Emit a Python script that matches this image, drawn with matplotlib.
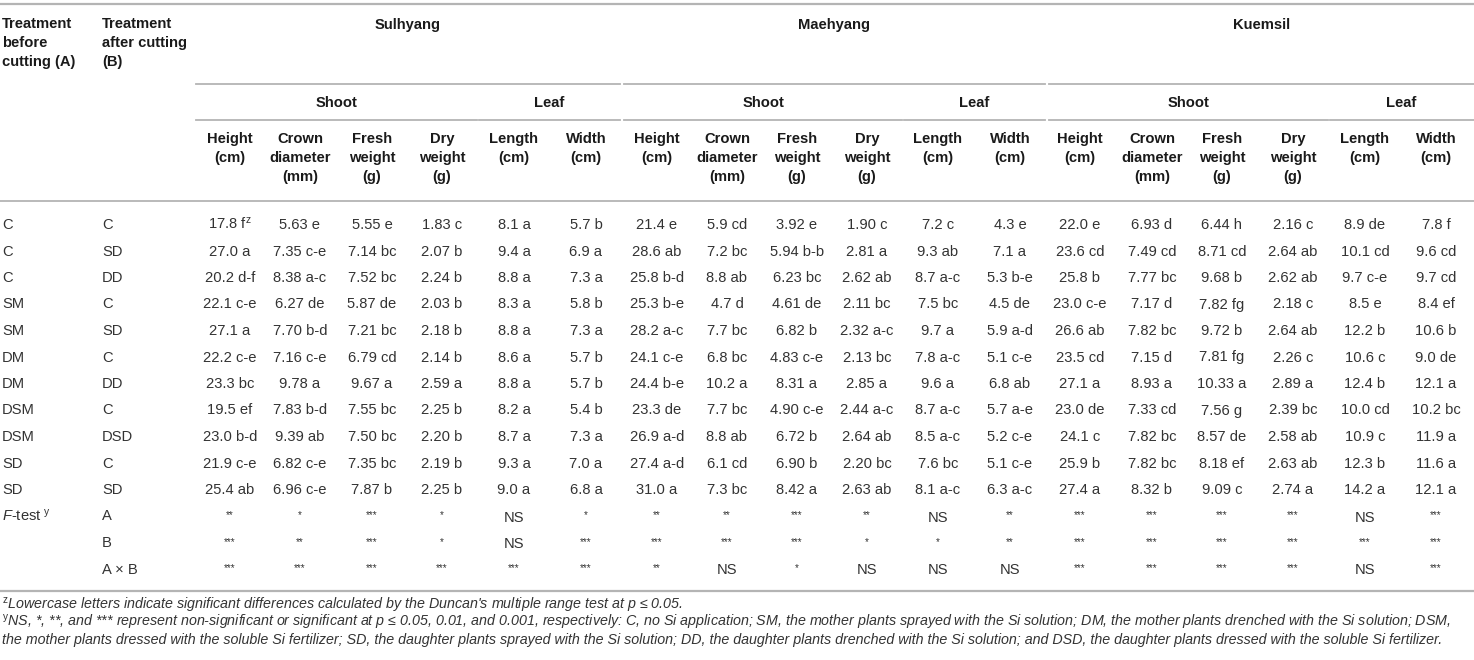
import matplotlib
matplotlib.use('Agg')
import matplotlib.pyplot as plt

plt.rcParams['font.family'] = ['Liberation Sans', 'DejaVu Sans']
plt.rcParams['mathtext.fontset'] = 'custom'
plt.rcParams['mathtext.rm'] = 'Liberation Sans'
plt.rcParams['mathtext.it'] = 'Liberation Sans:italic'

# table content
varieties = ['Sulhyang', 'Maehyang', 'Kuemsil']
groups = ['Shoot', 'Leaf']
col_heads = ['Height\n(cm)', 'Crown\ndiameter\n(mm)', 'Fresh\nweight\n(g)',
             'Dry\nweight\n(g)', 'Length\n(cm)', 'Width\n(cm)']

treat_a = ['C', 'C', 'C', 'SM', 'SM', 'DM', 'DM', 'DSM', 'DSM', 'SD', 'SD']
treat_b = ['C', 'SD', 'DD', 'C', 'SD', 'C', 'DD', 'C', 'DSD', 'C', 'SD']
ftest_b = ['A', 'B', 'A \u00d7 B']

sulhyang = [
    ['17.8 f$^{\\mathrm{z}}$', '5.63 e', '5.55 e', '1.83 c', '8.1 a', '5.7 b'],
    ['27.0 a', '7.35 c-e', '7.14 bc', '2.07 b', '9.4 a', '6.9 a'],
    ['20.2 d-f', '8.38 a-c', '7.52 bc', '2.24 b', '8.8 a', '7.3 a'],
    ['22.1 c-e', '6.27 de', '5.87 de', '2.03 b', '8.3 a', '5.8 b'],
    ['27.1 a', '7.70 b-d', '7.21 bc', '2.18 b', '8.8 a', '7.3 a'],
    ['22.2 c-e', '7.16 c-e', '6.79 cd', '2.14 b', '8.6 a', '5.7 b'],
    ['23.3 bc', '9.78 a', '9.67 a', '2.59 a', '8.8 a', '5.7 b'],
    ['19.5 ef', '7.83 b-d', '7.55 bc', '2.25 b', '8.2 a', '5.4 b'],
    ['23.0 b-d', '9.39 ab', '7.50 bc', '2.20 b', '8.7 a', '7.3 a'],
    ['21.9 c-e', '6.82 c-e', '7.35 bc', '2.19 b', '9.3 a', '7.0 a'],
    ['25.4 ab', '6.96 c-e', '7.87 b', '2.25 b', '9.0 a', '6.8 a'],
]
maehyang = [
    ['21.4 e', '5.9 cd', '3.92 e', '1.90 c', '7.2 c', '4.3 e'],
    ['28.6 ab', '7.2 bc', '5.94 b-b', '2.81 a', '9.3 ab', '7.1 a'],
    ['25.8 b-d', '8.8 ab', '6.23 bc', '2.62 ab', '8.7 a-c', '5.3 b-e'],
    ['25.3 b-e', '4.7 d', '4.61 de', '2.11 bc', '7.5 bc', '4.5 de'],
    ['28.2 a-c', '7.7 bc', '6.82 b', '2.32 a-c', '9.7 a', '5.9 a-d'],
    ['24.1 c-e', '6.8 bc', '4.83 c-e', '2.13 bc', '7.8 a-c', '5.1 c-e'],
    ['24.4 b-e', '10.2 a', '8.31 a', '2.85 a', '9.6 a', '6.8 ab'],
    ['23.3 de', '7.7 bc', '4.90 c-e', '2.44 a-c', '8.7 a-c', '5.7 a-e'],
    ['26.9 a-d', '8.8 ab', '6.72 b', '2.64 ab', '8.5 a-c', '5.2 c-e'],
    ['27.4 a-d', '6.1 cd', '6.90 b', '2.20 bc', '7.6 bc', '5.1 c-e'],
    ['31.0 a', '7.3 bc', '8.42 a', '2.63 ab', '8.1 a-c', '6.3 a-c'],
]
kuemsil = [
    ['22.0 e', '6.93 d', '6.44 h', '2.16 c', '8.9 de', '7.8 f'],
    ['23.6 cd', '7.49 cd', '8.71 cd', '2.64 ab', '10.1 cd', '9.6 cd'],
    ['25.8 b', '7.77 bc', '9.68 b', '2.62 ab', '9.7 c-e', '9.7 cd'],
    ['23.0 c-e', '7.17 d', '7.82 fg', '2.18 c', '8.5 e', '8.4 ef'],
    ['26.6 ab', '7.82 bc', '9.72 b', '2.64 ab', '12.2 b', '10.6 b'],
    ['23.5 cd', '7.15 d', '7.81 fg', '2.26 c', '10.6 c', '9.0 de'],
    ['27.1 a', '8.93 a', '10.33 a', '2.89 a', '12.4 b', '12.1 a'],
    ['23.0 de', '7.33 cd', '7.56 g', '2.39 bc', '10.0 cd', '10.2 bc'],
    ['24.1 c', '7.82 bc', '8.57 de', '2.58 ab', '10.9 c', '11.9 a'],
    ['25.9 b', '7.82 bc', '8.18 ef', '2.63 ab', '12.3 b', '11.6 a'],
    ['27.4 a', '8.32 b', '9.09 c', '2.74 a', '14.2 a', '12.1 a'],
]
sulhyang_f = [['**', '*', '***', '*', 'NS', '*'],
              ['***', '**', '***', '*', 'NS', '***'],
              ['***', '***', '***', '***', '***', '***']]
maehyang_f = [['**', '**', '***', '**', 'NS', '**'],
              ['***', '***', '***', '*', '*', '**'],
              ['**', 'NS', '*', 'NS', 'NS', 'NS']]
kuemsil_f = [['***', '***', '***', '***', 'NS', '***'],
             ['***', '***', '***', '***', '***', '***'],
             ['***', '***', '***', '***', 'NS', '***']]

notes = [
    "$^{\\mathrm{z}}$Lowercase letters indicate significant differences calculated by the Duncan's multiple range test at p \u2264 0.05.",
    "$^{\\mathrm{y}}$NS, *, **, and *** represent non-significant or significant at p \u2264 0.05, 0.01, and 0.001, respectively: C, no Si application; SM, the mother plants sprayed with the Si solution; DM, the mother plants drenched with the Si solution; DSM,",
    "the mother plants dressed with the soluble Si fertilizer; SD, the daughter plants sprayed with the Si solution; DD, the daughter plants drenched with the Si solution; and DSD, the daughter plants dressed with the soluble Si fertilizer.",
]

W, H = 1474, 660
fig = plt.figure(figsize=(W / 100, H / 100), dpi=100)
ax = fig.add_axes([0, 0, 1, 1])
ax.set_xlim(0, W)
ax.set_ylim(H, 0)
ax.axis('off')

hd = '#1a1a1a'
tx = '#333333'
lc = '#b4b4b4'
fs = 10.6

col_x = [[230, 300, 372, 442, 514, 586],
         [657, 727, 797, 867, 938, 1010],
         [1080, 1152, 1222, 1293, 1365, 1436]]
var_span = [(196, 620), (624, 1045), (1049, 1474)]
grp_split = [478, 903, 1329]

row_y0, row_dy = 225, 26.5

# rules
ax.plot([0, W], [4, 4], color=lc, lw=1.6)
ax.plot([0, W], [201, 201], color=lc, lw=1.3)
ax.plot([0, W], [591, 591], color=lc, lw=1.6)
for (x0, x1), xs in zip(var_span, grp_split):
    ax.plot([x0, x1], [84, 84], color=lc, lw=1.3)
    ax.plot([x0, xs - 1], [120, 120], color=lc, lw=1.3)
    ax.plot([xs + 1, x1], [120, 120], color=lc, lw=1.3)

# header
ax.text(2, 17, 'Treatment\nbefore\ncutting (A)', fontsize=fs, fontweight='bold',
        color=hd, va='top', ha='left', linespacing=1.45)
ax.text(102, 17, 'Treatment\nafter cutting\n(B)', fontsize=fs, fontweight='bold',
        color=hd, va='top', ha='left', linespacing=1.45)
for v, (x0, x1), xs, xs_ in zip(varieties, var_span, grp_split, col_x):
    ax.text((x0 + x1) / 2, 25, v, fontsize=fs, fontweight='bold', color=hd,
            ha='center', va='center')
    ax.text((x0 + xs) / 2, 103, groups[0], fontsize=fs, fontweight='bold',
            color=hd, ha='center', va='center')
    ax.text((xs + x1) / 2, 103, groups[1], fontsize=fs, fontweight='bold',
            color=hd, ha='center', va='center')
    for cx, h in zip(xs_, col_heads):
        ax.text(cx, 132, h, fontsize=fs, fontweight='bold', color=hd,
                ha='center', va='top', linespacing=1.45)

# body (baseline aligned so superscripts don't shift the row)
base = 4
for i, (a, b) in enumerate(zip(treat_a, treat_b)):
    y = row_y0 + i * row_dy + base
    ax.text(2, y, a, fontsize=fs, color=tx, ha='left', va='baseline')
    ax.text(102, y, b, fontsize=fs, color=tx, ha='left', va='baseline')
    for data, xs in zip([sulhyang, maehyang, kuemsil], col_x):
        for cx, val in zip(xs, data[i]):
            ax.text(cx, y, val, fontsize=fs, color=tx, ha='center', va='baseline')

for j, b in enumerate(ftest_b):
    y = row_y0 + (len(treat_a) + j) * row_dy
    if j == 0:
        ax.text(2, y + base, '$\\it{F}$-test $^{\\mathrm{y}}$', fontsize=fs, color=tx,
                ha='left', va='baseline')
    ax.text(102, y + base, b, fontsize=fs, color=tx, ha='left', va='baseline')
    for data, xs in zip([sulhyang_f, maehyang_f, kuemsil_f], col_x):
        for cx, val in zip(xs, data[j]):
            if val == 'NS':
                ax.text(cx, y + base + 1, val, fontsize=fs, color=tx,
                        ha='center', va='baseline')
            else:
                ax.text(cx, y - 1, val, fontsize=7, color=tx, ha='center', va='center')

# footnotes, fitted to width
fig.canvas.draw()
r = fig.canvas.get_renderer()
note_y = [610, 627, 644]
nf = 9.5
t = ax.text(2, note_y[1], notes[1], fontsize=nf, style='italic', color=tx,
            ha='left', va='baseline')
wpx = t.get_window_extent(renderer=r).width
nf = nf * 1458 / wpx
t.remove()
for y, n in zip(note_y, notes):
    ax.text(2, y, n, fontsize=nf, style='italic', color=tx, ha='left', va='baseline')

fig.savefig('out.png', dpi=100)
